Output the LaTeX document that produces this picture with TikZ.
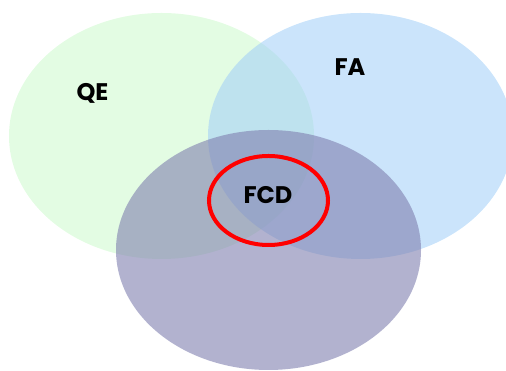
\documentclass[tikz,border=0pt]{standalone}
\usepackage{fontspec}
\setmainfont{Poppins}
\definecolor{qegreen}{RGB}{227,252,227}
\definecolor{fablue}{RGB}{163,208,248}
\definecolor{fcdpurple}{RGB}{127,127,175}
\tikzset{setlabel/.style={anchor=base, font=\fontsize{24}{28}\selectfont\bfseries}}
\begin{document}
\begin{tikzpicture}[x=1pt,y=1pt]
                                \useasboundingbox (0,0) rectangle (506,371);

                                \fill[qegreen] (161.5,235) ellipse (152.5 and 123);
                                \fill[fablue, opacity=0.57] (360.5,235) ellipse (152.5 and 123);
                                \fill[fcdpurple, opacity=0.6] (268.5,121) ellipse (152.5 and 120);
                                \draw[red, line width=4pt] (268.5,170.5) ellipse (59.5 and 44.5);

                                \node[setlabel] (qe) at (92.5,270) {QE};
                                \node[setlabel] (fa) at (350,295) {FA};
                                \node[setlabel] (fcd) at (268,167) {FCD};
                            \end{tikzpicture}
\end{document}
